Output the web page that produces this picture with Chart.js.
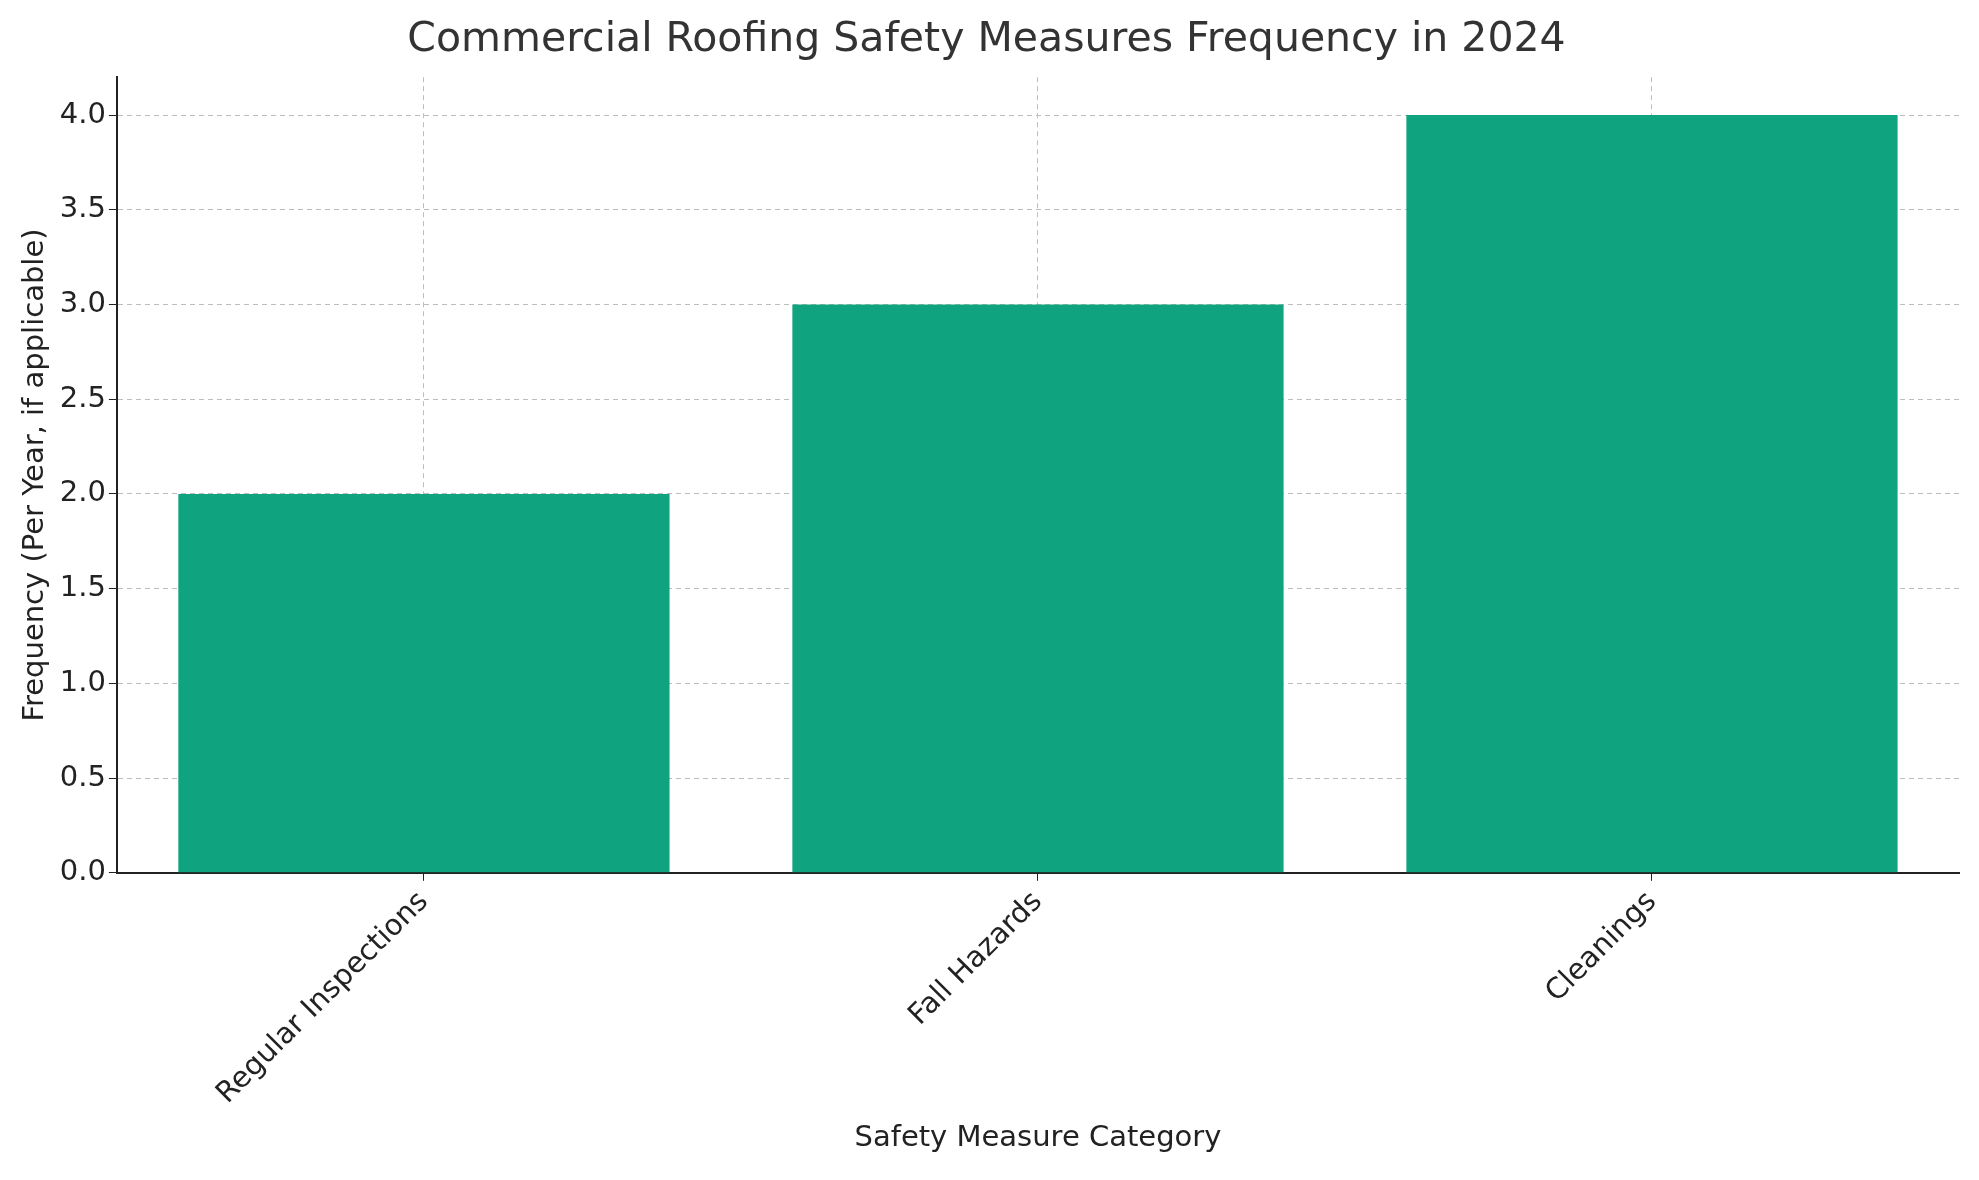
<!DOCTYPE html>
<html>
<head>
<meta charset="utf-8">
<script src="https://cdn.jsdelivr.net/npm/chart.js@4"></script>
<style>
  body { margin: 0; background: #fff; }
</style>
</head>
<body>
<canvas id="grafico" width="1979" height="1180"></canvas>
<script>
const categorias = ["Regular Inspections", "Fall Hazards", "Cleanings"];
const frecuencias = [2, 3, 4];
const ticksY = [0, 0.5, 1, 1.5, 2, 2.5, 3, 3.5, 4];

Chart.defaults.font.family = "'DejaVu Sans', sans-serif";
Chart.defaults.color = "#222";

const ctx = document.getElementById("grafico").getContext("2d");
new Chart(ctx, {
  type: "bar",
  data: {
    labels: categorias,
    datasets: [{
      data: frecuencias,
      backgroundColor: "#10a37f",
      barPercentage: 0.8,
      categoryPercentage: 1
    }]
  },
  options: {
    responsive: false,
    devicePixelRatio: 1,
    animation: false,
    layout: { padding: { left: 14, right: 20, top: 8, bottom: 20 } },
    plugins: {
      legend: { display: false },
      tooltip: { enabled: false },
      title: {
        display: true,
        text: "Commercial Roofing Safety Measures Frequency in 2024",
        font: { size: 41, weight: "normal" },
        color: "#333",
        padding: { top: 8, bottom: 12 }
      }
    },
    scales: {
      x: {
        grid: { color: "#bdbdbd", offset: false, tickColor: "#222", tickLength: 8 },
        border: { color: "#222", width: 2, dash: [5, 4] },
        ticks: { font: { size: 29 }, color: "#222", maxRotation: 45, minRotation: 45, padding: 4 },
        title: { display: true, text: "Safety Measure Category", font: { size: 29 }, color: "#222", padding: { top: 6 } }
      },
      y: {
        min: 0,
        max: 4.2,
        afterBuildTicks: (axis) => { axis.ticks = ticksY.map(v => ({ value: v })); },
        grid: { color: "#bdbdbd", tickColor: "#222", tickLength: 8 },
        border: { color: "#222", width: 2, dash: [5, 4] },
        ticks: { font: { size: 29 }, color: "#222", callback: v => v.toFixed(1) },
        title: { display: true, text: "Frequency (Per Year, if applicable)", font: { size: 29 }, color: "#222" }
      }
    }
  }
});
</script>
</body>
</html>
